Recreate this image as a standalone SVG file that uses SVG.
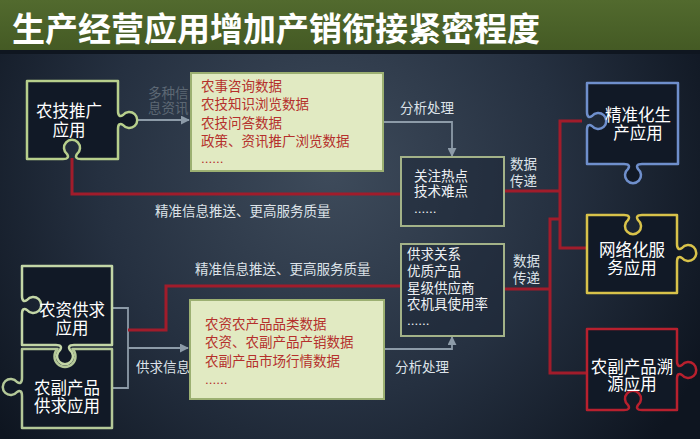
<svg xmlns="http://www.w3.org/2000/svg" width="700" height="439" viewBox="0 0 700 439" xml:lang="zh-CN">
<defs>
<radialGradient id="bg" cx="330" cy="170" r="420" gradientUnits="userSpaceOnUse">
<stop offset="0" stop-color="#3e4b5b"/>
<stop offset="0.55" stop-color="#253040"/>
<stop offset="1" stop-color="#0e1520"/>
</radialGradient>
<linearGradient id="tb" x1="0" y1="0" x2="0" y2="1">
<stop offset="0" stop-color="#526a2e"/>
<stop offset="1" stop-color="#445a24"/>
</linearGradient>
<marker id="ah" viewBox="0 0 10 10" refX="9" refY="5" markerWidth="5" markerHeight="5" orient="auto">
<path d="M0,0 L10,5 L0,10 Z" fill="#8d9ba8"/>
</marker>
<style>
text{font-family:"Liberation Sans","Noto Sans CJK SC",sans-serif;}
.title{font-family:"Noto Sans CJK SC",sans-serif;font-size:33px;font-weight:bold;fill:#ffffff;}
.pz{fill:#111926;stroke-width:2.5;stroke-linejoin:round;}
.pt{font-size:16.5px;fill:#ffffff;text-anchor:middle;}
.db{fill:#e1eac2;stroke:#9cb072;stroke-width:2;}
.dt{font-size:13.5px;fill:#b5302c;}
.mb{fill:#1c2636;fill-opacity:0.5;stroke:#a3b288;stroke-width:2;}
.mt{font-size:13.5px;fill:#eef1f4;}
.lb{font-size:13.5px;fill:#dde3e9;}
.dim{font-size:13.5px;fill:#5d6874;}
.red{fill:none;stroke:#a11c2b;stroke-width:3;}
.gray{fill:none;stroke:#8d9ba8;stroke-width:1.8;}
</style>
</defs>
<rect x="0" y="0" width="700" height="439" fill="url(#bg)"/>
<rect x="0" y="0" width="700" height="50" fill="url(#tb)"/>
<rect x="0" y="50" width="700" height="4" fill="#0f1620"/>
<text class="title" x="12" y="41">生产经营应用增加产销衔接紧密程度</text>

<g id="connectors">
<path class="gray" d="M137,120 H189" marker-end="url(#ah)"/>
<path class="gray" d="M383,122 H452 V156" marker-end="url(#ah)"/>
<path class="gray" d="M383,349 H452 V337" marker-end="url(#ah)"/>
<path class="gray" d="M112,308 H128 V388 H112"/>
<path class="gray" d="M128,348 H188" marker-end="url(#ah)"/>
<path class="red" d="M72,158 V194 H401"/>
<path class="red" d="M128,330 H166 V286 H401"/>
<path class="red" d="M504,191 H560"/>
<path class="red" d="M582,121 H560 V248 H587"/>
<path class="red" d="M560,219 H550 V373 H587"/>
<path class="red" d="M504,289 H550"/>
<text class="dim" x="148" y="98">多种信<tspan x="148" dy="15">息资讯</tspan></text>
<text class="lb" x="400" y="113">分析处理</text>
<text class="lb" x="395" y="372">分析处理</text>
<text class="lb" x="155" y="216">精准信息推送、更高服务质量</text>
<text class="lb" x="195" y="274">精准信息推送、更高服务质量</text>
<text class="lb" x="136" y="372">供求信息</text>
<text class="lb" x="510" y="169">数据<tspan x="510" dy="17">传递</tspan></text>
<text class="lb" x="513" y="266">数据<tspan x="513" dy="17">传递</tspan></text>
</g>

<g id="node-nongji">
<path class="pz" stroke="#b7cf8c" d="M27,81 H118 V111 C118,116 120,117 123,115 A8,8 0 1 1 123,125 C120,123 118,124 118,129 V159 H81 C76,159 75,157 77,154 A8,8 0 1 0 67,154 C69,157 68,159 63,159 H27 Z"/>
<text class="pt" x="69" y="117">农技推广<tspan x="69" dy="19">应用</tspan></text>
</g>

<g id="node-nongzi">
<path class="pz" stroke="#c3d6a6" d="M22,266 H112 V345 H74 C69,345 68,347 70,350 A8,8 0 1 1 60,350 C62,347 61,345 56,345 H22 V314 C22,309 24,308 27,310 A8,8 0 1 0 27,300 C24,302 22,301 22,296 Z"/>
<text class="pt" x="72" y="316">农资供求<tspan x="72" dy="18">应用</tspan></text>
</g>

<g id="node-nongfu">
<path class="pz" stroke="#b4c898" d="M22,349 H57.6 A10.5,10.5 0 1 0 72.4,349 H112 V428 H22 V396 C22,391 20,390 17,392 A8,8 0 1 1 17,382 C20,384 22,383 22,378 Z"/>
<text class="pt" x="67" y="394">农副产品<tspan x="67" dy="18">供求应用</tspan></text>
</g>

<g id="box-top">
<rect class="db" x="191" y="73" width="192" height="98"/>
<text class="dt" x="201" y="91">农事咨询数据<tspan x="201" dy="18">农技知识浏览数据</tspan><tspan x="201" dy="19">农技问答数据</tspan><tspan x="201" dy="18">政策、资讯推广浏览数据</tspan><tspan x="201" dy="17">......</tspan></text>
</g>

<g id="box-bottom">
<rect class="db" x="190" y="300" width="194" height="99"/>
<text class="dt" x="205" y="329">农资农产品品类数据<tspan x="205" dy="18">农资、农副产品产销数据</tspan><tspan x="205" dy="19">农副产品市场行情数据</tspan><tspan x="205" dy="18">......</tspan></text>
</g>

<g id="box-mid1">
<rect class="mb" x="401" y="157" width="103" height="69"/>
<text class="mt" x="414" y="181">关注热点<tspan x="414" dy="15">技术难点</tspan><tspan x="414" dy="17">......</tspan></text>
</g>

<g id="box-mid2">
<rect class="mb" x="401" y="244" width="103" height="92"/>
<text class="mt" x="407" y="259">供求关系<tspan x="407" dy="17">优质产品</tspan><tspan x="407" dy="17">星级供应商</tspan><tspan x="407" dy="16">农机具使用率</tspan><tspan x="407" dy="16">......</tspan></text>
</g>

<g id="node-jingzhun">
<path class="pz" stroke="#6f8fcc" d="M587,83 H678 V164 H642 C637,164 636,166 638,169 A8,8 0 1 1 628,169 C630,166 629,164 624,164 H587 V130 C587,125 589,124 592,126 A8,8 0 1 0 592,116 C589,118 587,117 587,112 Z"/>
<text class="pt" x="638" y="121">精准化生<tspan x="638" dy="18">产应用</tspan></text>
</g>

<g id="node-wangluo">
<path class="pz" stroke="#d8c24a" d="M587,215 H624 C629,215 630,217 628,220 A8,8 0 1 0 638,220 C636,217 637,215 642,215 H677 V244 C677,249 679,250 682,248 A8,8 0 1 1 682,258 C679,256 677,257 677,262 V293 H587 Z"/>
<text class="pt" x="632" y="256">网络化服<tspan x="632" dy="18">务应用</tspan></text>
</g>

<g id="node-suyuan">
<path class="pz" stroke="#b8202e" d="M587,329 H677 V361 C677,366 679,367 682,365 A8,8 0 1 1 682,375 C679,373 677,374 677,379 V410 H642 C637,410 636,408 638,405 A8,8 0 1 0 628,405 C630,408 629,410 624,410 H587 Z"/>
<text class="pt" x="632" y="373">农副产品溯<tspan x="632" dy="17">源应用</tspan></text>
</g>
</svg>
